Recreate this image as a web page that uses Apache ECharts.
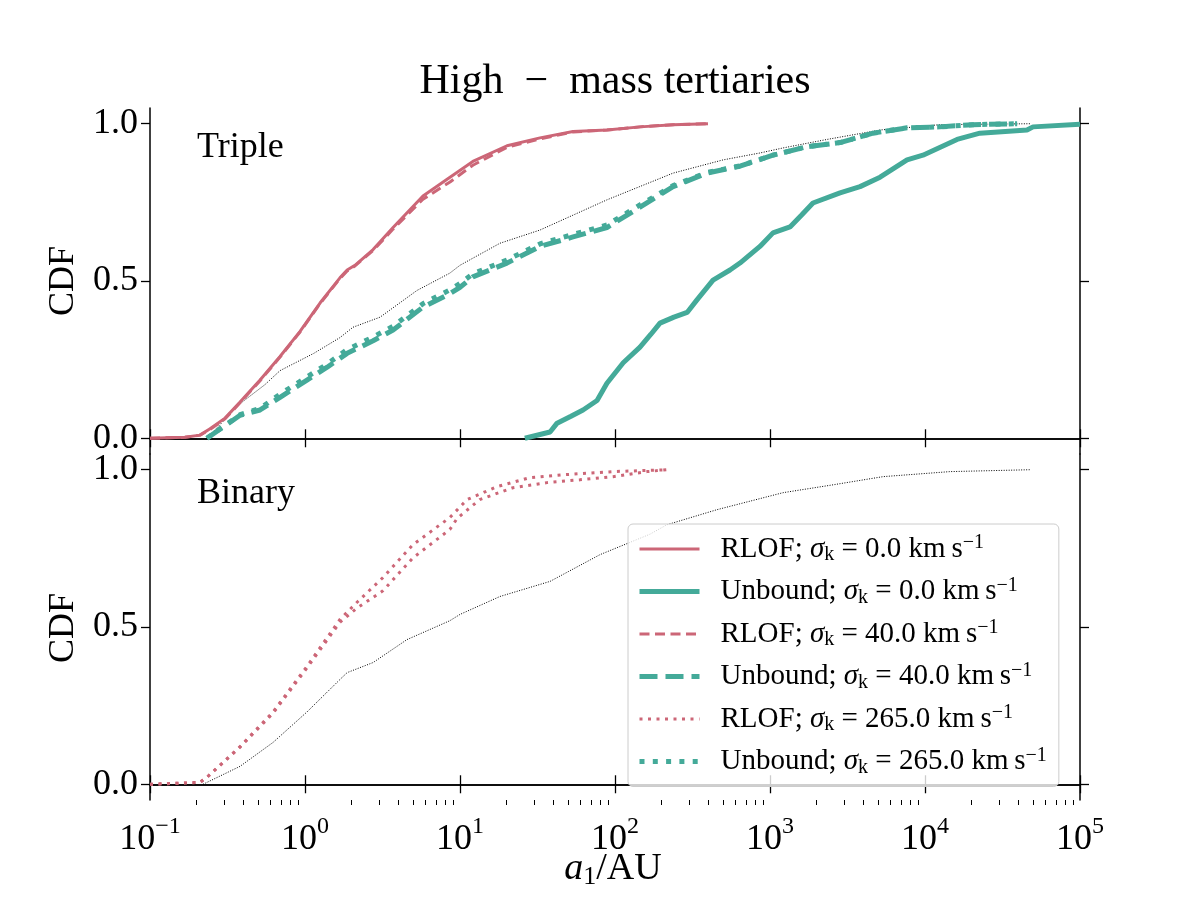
<!DOCTYPE html>
<html>
<head>
<meta charset="utf-8">
<script src="https://cdn.jsdelivr.net/npm/echarts@6/dist/echarts.min.js"></script>
<style>
  html, body { margin: 0; padding: 0; background: #fff; }
  #chart { width: 1200px; height: 900px; }
</style>
</head>
<body>
<div id="chart"></div>
<script>
// x ticks (a1 in AU) and y ticks
const decades = [0.1, 1, 10, 100, 1000, 10000, 100000]
const yTicks = [0, 0.5, 1]

// Triple panel
const rlof0X = [0.1, 0.168, 0.21, 0.244, 0.305, 0.381, 0.513, 0.69, 0.929, 1.25, 1.68, 1.87, 2.1, 2.75, 3.7, 5.77, 8.62, 12.1, 20.1, 32.8, 53.6, 88.7, 145, 237, 398]
const rlof0Y = [0, 0.003, 0.01, 0.03, 0.064, 0.115, 0.185, 0.26, 0.34, 0.43, 0.51, 0.535, 0.55, 0.6, 0.67, 0.77, 0.83, 0.88, 0.93, 0.955, 0.975, 0.98, 0.99, 0.997, 1.0]
const rlof40Y = [0, 0.003, 0.01, 0.028, 0.062, 0.113, 0.183, 0.258, 0.338, 0.428, 0.508, 0.532, 0.548, 0.597, 0.665, 0.76, 0.815, 0.868, 0.925, 0.952, 0.974, 0.98, 0.99, 0.997, 1.0]

const unb0X = [26.2, 38.1, 42.3, 52, 62.2, 76.6, 88.7, 113, 145, 170, 195, 240, 292, 338, 429, 552, 640, 861, 1045, 1346, 1600, 1893, 2830, 3810, 5130, 7660, 9700, 16100, 22600, 45500, 49800, 100000]
const unb0Y = [0, 0.02, 0.048, 0.07, 0.09, 0.12, 0.175, 0.24, 0.29, 0.33, 0.366, 0.385, 0.4, 0.44, 0.503, 0.535, 0.557, 0.61, 0.653, 0.672, 0.71, 0.748, 0.78, 0.8, 0.83, 0.885, 0.9, 0.95, 0.97, 0.98, 0.99, 0.998]

const unb40X = [0.233, 0.381, 0.513, 0.69, 1.03, 1.39, 1.87, 2.75, 3.7, 5.77, 8.62, 10, 12.1, 20.1, 32.8, 53.6, 88.7, 145, 237, 392, 640, 1045, 1733, 2830, 4620, 7660, 12500, 20400, 39300]
const unb40Y = [0, 0.073, 0.09, 0.13, 0.185, 0.226, 0.27, 0.31, 0.344, 0.417, 0.46, 0.48, 0.513, 0.557, 0.61, 0.64, 0.67, 0.735, 0.8, 0.843, 0.865, 0.9, 0.927, 0.94, 0.97, 0.987, 0.99, 0.997, 1.0]
const unb265Y = [0, 0.075, 0.095, 0.14, 0.195, 0.236, 0.282, 0.322, 0.356, 0.428, 0.472, 0.492, 0.523, 0.567, 0.618, 0.648, 0.678, 0.742, 0.803, 0.845, 0.866, 0.9, 0.927, 0.94, 0.97, 0.987, 0.99, 0.997, 1.0]

const refTripleX = [0.233, 0.381, 0.55, 0.69, 1.14, 1.68, 2.04, 3.05, 5.28, 8.6, 10, 18.1, 32.8, 88.7, 237, 498, 861, 1213, 2330, 5130, 12500, 47500]
const refTripleY = [0, 0.11, 0.17, 0.215, 0.27, 0.32, 0.353, 0.385, 0.47, 0.525, 0.55, 0.62, 0.662, 0.758, 0.843, 0.885, 0.907, 0.923, 0.95, 0.98, 0.997, 1.0]

// Binary panel
const binUpperX = [0.1, 0.21, 0.233, 0.381, 0.622, 1.03, 1.68, 2.16, 3.18, 4.98, 8.6, 11.1, 17.3, 28.3, 46.3, 97.1, 216]
const binUpperY = [0, 0.006, 0.022, 0.12, 0.23, 0.375, 0.524, 0.578, 0.657, 0.762, 0.848, 0.905, 0.946, 0.975, 0.984, 0.994, 1.0]
const binLowerX = [0.1, 0.21, 0.233, 0.381, 0.622, 1.03, 1.68, 2.16, 3.18, 4.98, 8.6, 9.57, 13.4, 22, 36.4, 59.4, 97.1, 161, 216]
const binLowerY = [0, 0.006, 0.022, 0.118, 0.226, 0.37, 0.515, 0.56, 0.615, 0.72, 0.81, 0.845, 0.905, 0.943, 0.959, 0.968, 0.978, 0.994, 1.0]

const refBinaryX = [0.22, 0.381, 0.622, 1.03, 1.68, 1.87, 2.75, 4.55, 8.6, 10, 18.1, 38.1, 80, 168, 216, 455, 1213, 2550, 5360, 14500, 47500]
const refBinaryY = [0, 0.057, 0.133, 0.23, 0.333, 0.355, 0.387, 0.46, 0.52, 0.54, 0.597, 0.645, 0.73, 0.795, 0.825, 0.873, 0.927, 0.952, 0.978, 0.994, 1.0]

// legend entries: kind | sigma_k
const names = ['RLOF|0.0', 'Unbound|0.0', 'RLOF|40.0', 'Unbound|40.0', 'RLOF|265.0', 'Unbound|265.0']

const RED = '#cc6677'
const TEAL = '#44aa99'
const FONT = 'Liberation Serif'

const zip = (xs, ys) => xs.map((x, i) => [x, ys[i]])

const minorTicks = []
for (let d = 0.1; d < 1e5; d *= 10) {
  for (let k = 2; k <= 9; k++) minorTicks.push(+(d * k).toPrecision(3))
}

function expLabel(v) {
  const e = Math.round(Math.log10(v))
  return '{b|10}{sup|' + (e < 0 ? '\u2212' + (-e) : e) + '}'
}

const tickStyle = { show: true, inside: false, length: 9, lineStyle: { color: '#000', width: 1.3 } }
const lineStyle = { show: true, lineStyle: { color: '#000', width: 1.5 } }

function xAx(grid, pos, labels) {
  return {
    type: 'log', logBase: 10, min: 0.1, max: 100000, gridIndex: grid, position: pos,
    axisLine: lineStyle,
    axisTick: Object.assign({ customValues: decades }, tickStyle),
    axisLabel: labels ? {
      show: true, customValues: decades, margin: 15, formatter: expLabel,
      rich: {
        b: { fontFamily: FONT, fontSize: 36, lineHeight: 50, verticalAlign: 'middle', color: '#000' },
        sup: { fontFamily: FONT, fontSize: 24, lineHeight: 15, verticalAlign: 'top', color: '#000' }
      }
    } : { show: false },
    splitLine: { show: false }
  }
}

function yAx(grid, pos, labels) {
  return {
    type: 'value', min: -0.05, max: 1.05, gridIndex: grid, position: pos,
    axisLine: lineStyle,
    axisTick: Object.assign({ customValues: yTicks }, tickStyle),
    axisLabel: labels ? {
      show: true, customValues: yTicks, margin: 12,
      formatter: v => v.toFixed(1),
      fontFamily: FONT, fontSize: 36, color: '#000'
    } : { show: false },
    splitLine: { show: false }
  }
}

function line(name, data, xi, color, width, type) {
  return {
    name: name, type: 'line', data: data, xAxisIndex: xi, yAxisIndex: xi === 0 ? 0 : 2,
    symbol: 'none', showSymbol: false, animation: false, silent: true,
    lineStyle: { color: color, width: width, type: type },
    itemStyle: { color: color }
  }
}

const chart = echarts.init(document.getElementById('chart'), null, { renderer: 'canvas' })

const option = {
  backgroundColor: '#fff',
  animation: false,
  grid: [
    { left: 150, top: 108, width: 930, height: 346 },
    { left: 150, top: 454, width: 930, height: 346 }
  ],
  xAxis: [
    xAx(0, 'bottom', false),
    xAx(0, 'top', false),
    xAx(1, 'bottom', true),
    xAx(1, 'top', false),
    {
      type: 'log', logBase: 10, min: 0.1, max: 100000, gridIndex: 1, position: 'bottom',
      axisLine: { show: false },
      axisTick: { show: true, inside: false, length: 5, customValues: minorTicks, lineStyle: { color: '#000', width: 1 } },
      axisLabel: { show: false },
      splitLine: { show: false }
    }
  ],
  yAxis: [
    yAx(0, 'left', true),
    yAx(0, 'right', false),
    yAx(1, 'left', true),
    yAx(1, 'right', false)
  ],
  legend: {
    data: names,
    orient: 'vertical',
    left: 628,
    top: 524,
    padding: [9, 12, 9, 9],
    itemWidth: 60,
    itemHeight: 12,
    itemGap: 10.5,
    backgroundColor: 'rgba(255,255,255,0.8)',
    borderColor: '#cccccc',
    borderWidth: 1,
    borderRadius: 5,
    selectedMode: false,
    itemStyle: { color: 'rgba(0,0,0,0)', borderWidth: 0, opacity: 0 },
    lineStyle: { width: 'inherit', type: 'inherit' },
    formatter: function (name) {
      const p = name.split('|')
      return '{sp| }{t|' + p[0] + '; }{it|\u03c3}{sub|k}{t| = ' + p[1] + ' km\u2009s}{sup|\u22121}'
    },
    textStyle: {
      rich: {
        sp: { width: 16 },
        t: { fontFamily: FONT, fontSize: 29, lineHeight: 32, verticalAlign: 'middle', color: '#000' },
        it: { fontFamily: FONT, fontSize: 29, fontStyle: 'italic', lineHeight: 32, verticalAlign: 'middle', color: '#000' },
        sub: { fontFamily: FONT, fontSize: 20, lineHeight: 16, verticalAlign: 'bottom', color: '#000' },
        sup: { fontFamily: FONT, fontSize: 20, lineHeight: 14, verticalAlign: 'top', color: '#000' }
      }
    }
  },
  graphic: [
    {
      type: 'text', x: 615, y: 82,
      style: { text: 'High\u2002\u2212\u2002mass tertiaries', font: '42px "' + FONT + '"', fill: '#000', textAlign: 'center', textVerticalAlign: 'middle' }
    },
    {
      type: 'text', x: 197, y: 148,
      style: { text: 'Triple', font: '36px "' + FONT + '"', fill: '#000', textAlign: 'left', textVerticalAlign: 'middle' }
    },
    {
      type: 'text', x: 197, y: 494,
      style: { text: 'Binary', font: '36px "' + FONT + '"', fill: '#000', textAlign: 'left', textVerticalAlign: 'middle' }
    },
    {
      type: 'text', x: 64, y: 281, rotation: Math.PI / 2,
      style: { text: 'CDF', font: '36px "' + FONT + '"', fill: '#000', textAlign: 'center', textVerticalAlign: 'middle' }
    },
    {
      type: 'text', x: 64, y: 628, rotation: Math.PI / 2,
      style: { text: 'CDF', font: '36px "' + FONT + '"', fill: '#000', textAlign: 'center', textVerticalAlign: 'middle' }
    },
    {
      type: 'text', x: 613, y: 869,
      style: {
        text: '{it|a}{sub|1}{t|/AU}', textAlign: 'center', textVerticalAlign: 'middle',
        rich: {
          it: { fontFamily: FONT, fontSize: 38, fontStyle: 'italic', lineHeight: 42, verticalAlign: 'middle', fill: '#000' },
          sub: { fontFamily: FONT, fontSize: 26, lineHeight: 20, verticalAlign: 'bottom', fill: '#000' },
          t: { fontFamily: FONT, fontSize: 38, lineHeight: 42, verticalAlign: 'middle', fill: '#000' }
        }
      }
    }
  ],
  series: [
    line('refTriple', zip(refTripleX, refTripleY), 0, '#000', 1, [1, 1.5]),
    line(names[0], zip(rlof0X, rlof0Y), 0, RED, 3, 'solid'),
    line(names[1], zip(unb0X, unb0Y), 0, TEAL, 5, 'solid'),
    line(names[2], zip(rlof0X, rlof40Y), 0, RED, 3, [10, 5.5]),
    line(names[3], zip(unb40X, unb40Y), 0, TEAL, 5, [18, 8]),
    line(names[5], zip(unb40X, unb265Y), 0, TEAL, 5, [5, 8.3]),

    line('refBinary', zip(refBinaryX, refBinaryY), 2, '#000', 1, [1, 1.5]),
    line('binLower', zip(binLowerX, binLowerY), 2, RED, 3, [3, 5.5]),
    line(names[4], zip(binUpperX, binUpperY), 2, RED, 3, [3, 5.5])
  ]
}

chart.setOption(option)
</script>
</body>
</html>
